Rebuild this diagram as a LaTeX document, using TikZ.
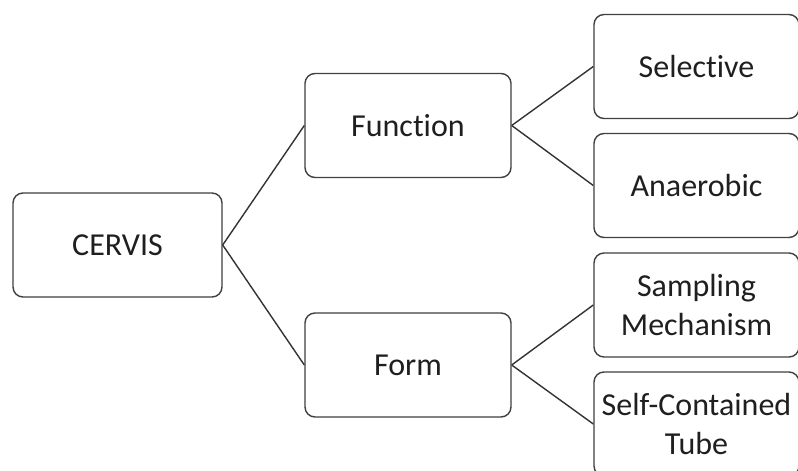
\documentclass[tikz,border=0pt]{standalone}
\usepackage{fontspec}
\setmainfont[RawFeature={-liga;-clig;-dlig;-calt;-hlig}]{Carlito}
\begin{document}
\begin{tikzpicture}[x=1pt,y=-1pt,
  box/.style={draw=black!75, line width=1.4pt, rounded corners=10pt, fill=white,
    minimum width=206pt, minimum height=104pt, inner sep=0pt, align=center,
    text=black!88, font=\fontsize{32}{38.5}\selectfont},
  link/.style={draw=black!80, line width=1.4pt}]
\clip (0,0) rectangle (798,471);
\useasboundingbox (0,0) rectangle (798,471);
\fill[white] (0,0) rectangle (798,471);
\node[box, minimum width=209pt] (c) at (117.5,245) {CERVIS};
\node[box] (fu) at (408,125.5) {Func\kern0pt tion};
\node[box] (fo) at (408,365) {Form};
\node[box, minimum width=205pt] (se) at (696.5,66.5) {Selec\kern0pt tive};
\node[box, minimum width=205pt] (an) at (696.5,185.5) {Anaerobic};
\node[box, minimum width=205pt] (sa) at (696.5,305) {Sampling\\Mechanism};
\node[box, minimum width=205pt] (sc) at (696.5,424) {Self-Contained\\Tube};
\draw[link] (c.east) -- (fu.west);
\draw[link] (c.east) -- (fo.west);
\draw[link] (fu.east) -- (se.west);
\draw[link] (fu.east) -- (an.west);
\draw[link] (fo.east) -- (sa.west);
\draw[link] (fo.east) -- (sc.west);
\end{tikzpicture}
\end{document}
